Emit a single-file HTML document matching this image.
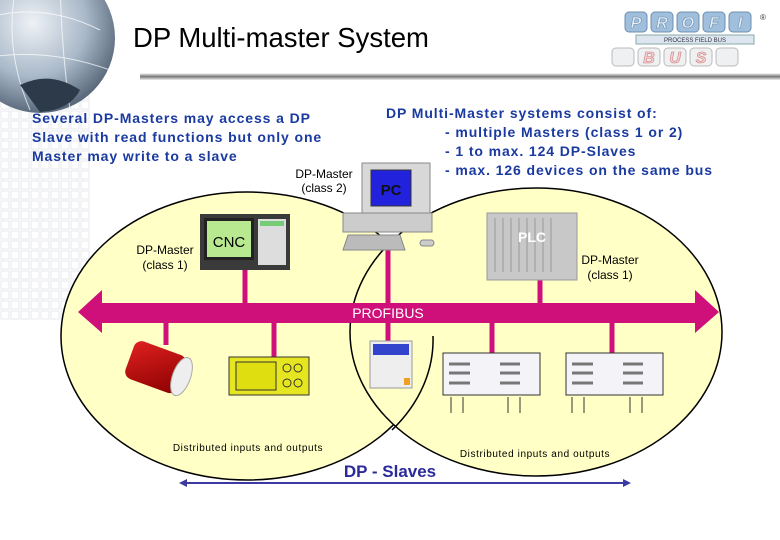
<!DOCTYPE html>
<html><head><meta charset="utf-8"><style>
body{margin:0;background:#fff;}
svg{display:block;font-family:"Liberation Sans",sans-serif;}
</style></head><body>
<svg width="780" height="540" viewBox="0 0 780 540" xmlns="http://www.w3.org/2000/svg">
<defs>
<radialGradient id="globe" cx="0.45" cy="0.4" r="0.6"><stop offset="0" stop-color="#eef2f6"/><stop offset="0.6" stop-color="#a9b8c8"/><stop offset="1" stop-color="#5a6a7c"/></radialGradient>
<linearGradient id="shad" x1="0" y1="0" x2="0" y2="1"><stop offset="0" stop-color="#fff"/><stop offset="0.5" stop-color="#777"/><stop offset="1" stop-color="#eee"/></linearGradient>
<linearGradient id="red" x1="0" y1="0" x2="1" y2="1"><stop offset="0" stop-color="#e02020"/><stop offset="1" stop-color="#8a0000"/></linearGradient>
<pattern id="grid" width="10" height="10" patternUnits="userSpaceOnUse"><rect x="1" y="1" width="8" height="8" fill="none" stroke="#e6e8ec" stroke-width="1"/></pattern>
</defs>
<rect x="0" y="90" width="90" height="230" fill="url(#grid)"/>
<circle cx="40" cy="38" r="75" fill="url(#globe)"/>
<path d="M-20 20 Q40 0 100 30 M-25 60 Q40 45 110 70 M20 -30 Q0 40 30 110 M60 -35 Q60 40 70 110" stroke="#fff" stroke-width="1" fill="none" opacity="0.7"/>
<path d="M20 85 Q50 70 80 90 Q70 110 40 112 Z" fill="#2c3a4a"/>
<text x="133" y="47" font-size="27.5" fill="#000">DP Multi-master System</text>
<rect x="140" y="73" width="640" height="7" fill="url(#shad)"/>
<g font-size="16" font-weight="bold" font-style="italic" text-anchor="middle">
<rect x="625" y="12" width="22" height="20" rx="4" fill="#9fbfdc" stroke="#6c8fb0"/><text x="636" y="28" fill="#e6eef6" stroke="#6c8fb0" stroke-width="0.6">P</text>
<rect x="651" y="12" width="22" height="20" rx="4" fill="#9fbfdc" stroke="#6c8fb0"/><text x="662" y="28" fill="#e6eef6" stroke="#6c8fb0" stroke-width="0.6">R</text>
<rect x="677" y="12" width="22" height="20" rx="4" fill="#9fbfdc" stroke="#6c8fb0"/><text x="688" y="28" fill="#e6eef6" stroke="#6c8fb0" stroke-width="0.6">O</text>
<rect x="703" y="12" width="22" height="20" rx="4" fill="#9fbfdc" stroke="#6c8fb0"/><text x="714" y="28" fill="#e6eef6" stroke="#6c8fb0" stroke-width="0.6">F</text>
<rect x="729" y="12" width="22" height="20" rx="4" fill="#9fbfdc" stroke="#6c8fb0"/><text x="740" y="28" fill="#e6eef6" stroke="#6c8fb0" stroke-width="0.6">I</text>
<rect x="612" y="48" width="22" height="18" rx="4" fill="#eef0f2" stroke="#bbb"/>
<rect x="638" y="48" width="22" height="18" rx="4" fill="#eef0f2" stroke="#bbb"/><text x="649" y="63" fill="#f4d0d0" stroke="#d08080" stroke-width="0.6">B</text>
<rect x="664" y="48" width="22" height="18" rx="4" fill="#eef0f2" stroke="#bbb"/><text x="675" y="63" fill="#f4d0d0" stroke="#d08080" stroke-width="0.6">U</text>
<rect x="690" y="48" width="22" height="18" rx="4" fill="#eef0f2" stroke="#bbb"/><text x="701" y="63" fill="#f4d0d0" stroke="#d08080" stroke-width="0.6">S</text>
<rect x="716" y="48" width="22" height="18" rx="4" fill="#eef0f2" stroke="#bbb"/>
</g>
<rect x="636" y="35" width="118" height="9" fill="#dde6ee" stroke="#8aa"/>
<text x="695" y="42" font-size="6" text-anchor="middle" fill="#334">PROCESS FIELD BUS</text>
<text x="760" y="20" font-size="8" fill="#333">®</text>
<ellipse cx="247" cy="336" rx="186" ry="144" fill="#ffffc6" stroke="#000" stroke-width="1.5"/>
<ellipse cx="536" cy="332" rx="186" ry="144" fill="#ffffc6" stroke="#000" stroke-width="1.5"/>
<path d="M433 336 A186 144 0 0 1 392 430" fill="none" stroke="#000" stroke-width="1.5"/>
<g font-size="14" font-weight="bold" fill="#1a3aa0" letter-spacing="0.9">
<text x="32" y="123">Several DP-Masters may access a DP</text>
<text x="32" y="142">Slave with read functions but only one</text>
<text x="32" y="161">Master may write to a slave</text>
<text x="386" y="118">DP Multi-Master systems consist of:</text>
<text x="445" y="137">- multiple Masters (class 1 or 2)</text>
<text x="445" y="156">- 1 to max. 124 DP-Slaves</text>
<text x="445" y="175">- max. 126 devices on the same bus</text>
</g>
<g font-size="12" fill="#000" text-anchor="middle">
<text x="324" y="178">DP-Master</text><text x="324" y="192">(class 2)</text>
<text x="165" y="254">DP-Master</text><text x="165" y="269">(class 1)</text>
<text x="610" y="264">DP-Master</text><text x="610" y="279">(class 1)</text>
</g>
<g stroke="#d0107a" stroke-width="5">
<line x1="245" y1="268" x2="245" y2="310"/>
<line x1="388" y1="245" x2="388" y2="342"/>
<line x1="540" y1="278" x2="540" y2="310"/>
<line x1="166" y1="318" x2="166" y2="345"/>
<line x1="274" y1="318" x2="274" y2="357"/>
<line x1="492" y1="318" x2="492" y2="355"/>
<line x1="612" y1="318" x2="612" y2="355"/>
</g>
<path d="M78 312 L102 290 L102 303 L695 303 L695 290 L719 312 L695 333 L695 323 L102 323 L102 333 Z" fill="#d0107a"/>
<text x="388" y="318" font-size="14" fill="#fff" text-anchor="middle">PROFIBUS</text>
<rect x="200" y="214" width="90" height="56" fill="#3a3a3a"/>
<rect x="204" y="218" width="50" height="42" fill="#222"/>
<rect x="207" y="221" width="44" height="36" fill="#b8e890"/>
<text x="229" y="247" font-size="15" text-anchor="middle" fill="#000">CNC</text>
<rect x="258" y="219" width="28" height="46" fill="#ddd"/>
<rect x="260" y="221" width="24" height="5" fill="#7c7"/>
<rect x="362" y="163" width="68" height="52" fill="#d8d8d8" stroke="#888"/>
<rect x="371" y="170" width="40" height="36" fill="#2222dd" stroke="#333"/>
<text x="391" y="195" font-size="15" font-weight="bold" text-anchor="middle" fill="#111">PC</text>
<rect x="343" y="213" width="89" height="19" fill="#ccc" stroke="#888"/>
<path d="M348 235 L400 235 L405 250 L343 250 Z" fill="#bbb" stroke="#888"/>
<rect x="420" y="240" width="14" height="6" rx="3" fill="#ccc" stroke="#888"/>
<rect x="487" y="213" width="90" height="67" fill="#c8c8c8" stroke="#999"/>
<g stroke="#999"><line x1="495" y1="218" x2="495" y2="272"/><line x1="503" y1="218" x2="503" y2="272"/><line x1="511" y1="218" x2="511" y2="272"/><line x1="519" y1="218" x2="519" y2="272"/><line x1="527" y1="218" x2="527" y2="272"/><line x1="535" y1="218" x2="535" y2="272"/><line x1="543" y1="218" x2="543" y2="272"/><line x1="551" y1="218" x2="551" y2="272"/></g>
<text x="532" y="242" font-size="14" font-weight="bold" fill="#fff" text-anchor="middle">PLC</text>
<g transform="rotate(20 158 368)"><rect x="128" y="348" width="55" height="40" rx="8" fill="url(#red)"/><ellipse cx="183" cy="368" rx="9" ry="20" fill="#eee" stroke="#aaa"/></g>
<rect x="229" y="357" width="80" height="38" fill="#e6e620" stroke="#333"/>
<rect x="236" y="362" width="40" height="28" fill="#dede10" stroke="#333"/>
<circle cx="287" cy="368" r="4" fill="none" stroke="#333"/><circle cx="298" cy="368" r="4" fill="none" stroke="#333"/>
<circle cx="287" cy="383" r="4" fill="none" stroke="#333"/><circle cx="298" cy="383" r="4" fill="none" stroke="#333"/>
<rect x="370" y="341" width="42" height="47" fill="#eee" stroke="#999"/>
<rect x="373" y="344" width="36" height="11" fill="#3344cc"/>
<rect x="404" y="378" width="6" height="7" fill="#f0a020"/>
<g fill="#f4f4f8" stroke="#333">
<rect x="443" y="353" width="97" height="42"/><rect x="566" y="353" width="97" height="42"/>
</g>
<g stroke="#777" stroke-width="3">
<line x1="449" y1="364" x2="470" y2="364"/><line x1="449" y1="373" x2="470" y2="373"/><line x1="449" y1="383" x2="470" y2="383"/>
<line x1="500" y1="364" x2="520" y2="364"/><line x1="500" y1="373" x2="520" y2="373"/><line x1="500" y1="383" x2="520" y2="383"/>
<line x1="572" y1="364" x2="593" y2="364"/><line x1="572" y1="373" x2="593" y2="373"/><line x1="572" y1="383" x2="593" y2="383"/>
<line x1="623" y1="364" x2="643" y2="364"/><line x1="623" y1="373" x2="643" y2="373"/><line x1="623" y1="383" x2="643" y2="383"/>
</g>
<g stroke="#333"><line x1="451" y1="397" x2="451" y2="413"/><line x1="463" y1="397" x2="463" y2="413"/><line x1="508" y1="397" x2="508" y2="413"/><line x1="520" y1="397" x2="520" y2="413"/><line x1="572" y1="397" x2="572" y2="413"/><line x1="584" y1="397" x2="584" y2="413"/><line x1="630" y1="397" x2="630" y2="413"/><line x1="642" y1="397" x2="642" y2="413"/></g>
<g font-size="10" fill="#000" text-anchor="middle" letter-spacing="0.6">
<text x="248" y="451">Distributed inputs and outputs</text>
<text x="535" y="457">Distributed inputs and outputs</text>
</g>
<text x="390" y="477" font-size="17" font-weight="bold" fill="#2a2a9a" text-anchor="middle">DP - Slaves</text>
<line x1="184" y1="483" x2="626" y2="483" stroke="#3a3aa0" stroke-width="2"/>
<path d="M179 483 L187 479 L187 487 Z M631 483 L623 479 L623 487 Z" fill="#3a3aa0"/>
</svg>
</body></html>
